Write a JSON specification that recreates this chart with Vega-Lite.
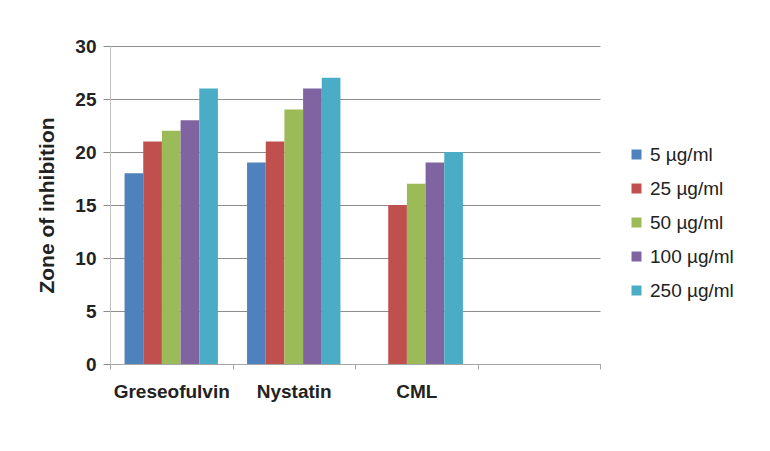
{
  "$schema": "https://vega.github.io/schema/vega-lite/v6.json",
  "autosize": {"type": "none"},
  "width": 490,
  "height": 318,
  "padding": {"left": 110, "top": 46, "right": 170, "bottom": 87},
  "background": "white",
  "config": {
    "font": "Liberation Sans",
    "view": {"stroke": null}
  },
  "data": {
    "values": [
      {"drug": "Greseofulvin", "conc": "5 µg/ml", "zone": 18},
      {"drug": "Greseofulvin", "conc": "25 µg/ml", "zone": 21},
      {"drug": "Greseofulvin", "conc": "50 µg/ml", "zone": 22},
      {"drug": "Greseofulvin", "conc": "100 µg/ml", "zone": 23},
      {"drug": "Greseofulvin", "conc": "250 µg/ml", "zone": 26},
      {"drug": "Nystatin", "conc": "5 µg/ml", "zone": 19},
      {"drug": "Nystatin", "conc": "25 µg/ml", "zone": 21},
      {"drug": "Nystatin", "conc": "50 µg/ml", "zone": 24},
      {"drug": "Nystatin", "conc": "100 µg/ml", "zone": 26},
      {"drug": "Nystatin", "conc": "250 µg/ml", "zone": 27},
      {"drug": "CML", "conc": "25 µg/ml", "zone": 15},
      {"drug": "CML", "conc": "50 µg/ml", "zone": 17},
      {"drug": "CML", "conc": "100 µg/ml", "zone": 19},
      {"drug": "CML", "conc": "250 µg/ml", "zone": 20}
    ]
  },
  "mark": {"type": "bar"},
  "encoding": {
    "x": {
      "field": "drug",
      "type": "nominal",
      "sort": null,
      "scale": {"domain": ["Greseofulvin", "Nystatin", "CML", " "], "paddingInner": 0, "paddingOuter": 0},
      "axis": {
        "title": null,
        "labelAngle": 0,
        "labelFontSize": 19,
        "labelFontWeight": "bold",
        "labelColor": "#222222",
        "labelPadding": 13,
        "tickBand": "extent",
        "tickSize": 5,
        "tickColor": "#a6a6a6",
        "domainColor": "#a6a6a6",
        "grid": false
      }
    },
    "xOffset": {
      "field": "conc",
      "type": "nominal",
      "sort": null,
      "scale": {"domain": ["5 µg/ml", "25 µg/ml", "50 µg/ml", "100 µg/ml", "250 µg/ml"], "paddingInner": 0, "paddingOuter": 0.78}
    },
    "y": {
      "field": "zone",
      "type": "quantitative",
      "scale": {"domain": [0, 30], "nice": false},
      "axis": {
        "title": "Zone of inhibition",
        "titleFontSize": 21,
        "titleFontWeight": "bold",
        "titleColor": "#222222",
        "titlePadding": 17,
        "values": [0, 5, 10, 15, 20, 25, 30],
        "labelFontSize": 19,
        "labelFontWeight": "bold",
        "labelColor": "#222222",
        "labelPadding": 7,
        "tickSize": 7,
        "tickColor": "#8c8c8c",
        "domainColor": "#c0c0c0",
        "gridColor": "#8c8c8c",
        "gridWidth": 1
      }
    },
    "color": {
      "field": "conc",
      "type": "nominal",
      "sort": null,
      "scale": {
        "domain": ["5 µg/ml", "25 µg/ml", "50 µg/ml", "100 µg/ml", "250 µg/ml"],
        "range": ["#4F81BD", "#C0504D", "#9BBB59", "#8064A2", "#4BACC6"]
      },
      "legend": {
        "title": null,
        "orient": "none",
        "legendX": 517,
        "legendY": 99,
        "symbolType": "square",
        "symbolSize": 100,
        "symbolStrokeWidth": 0,
        "labelFontSize": 19,
        "labelColor": "#222222",
        "labelOffset": 4,
        "rowPadding": 14
      }
    }
  }
}
